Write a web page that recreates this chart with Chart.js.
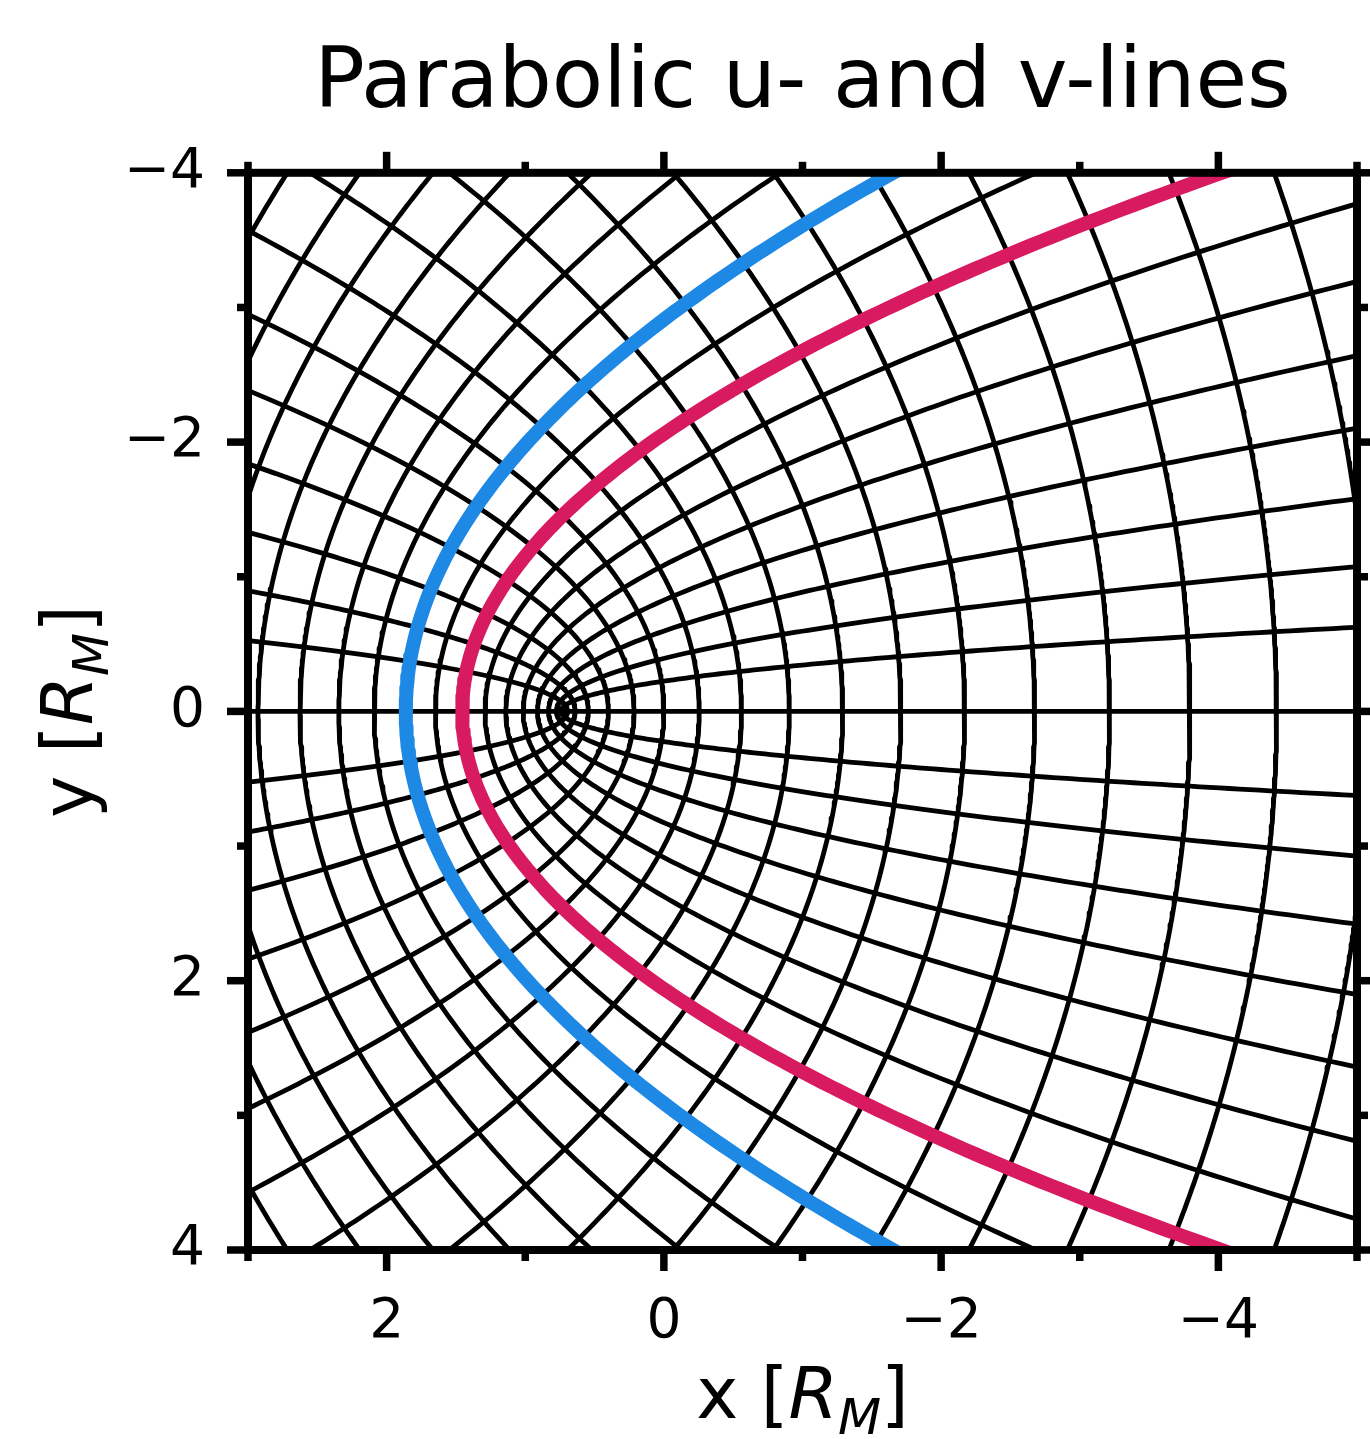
<!DOCTYPE html>
<html>
<head>
<meta charset="utf-8">
<title>Parabolic u- and v-lines</title>
<script src="https://cdn.jsdelivr.net/npm/chart.js@4.4.1/dist/chart.umd.min.js"></script>
<style>
  html, body { margin: 0; padding: 0; background: #fff; }
</style>
</head>
<body>
<canvas id="chart" width="1370" height="1439"></canvas>
<script>
// common focus of both families of parabolas [R_M]
const focusX = 0.725;
// x where each black u-line crosses y = 0 (opens towards -x); first one is the focus itself (y = 0 ray)
const uLineVertexX = [0.725, 0.742, 0.775, 0.832, 0.912, 1.015, 1.14, 1.29, 1.458, 1.648, 1.862, 2.09, 2.345, 2.625, 2.928, 3.25, 3.59, 3.955];
// x where each black v-line crosses y = 0 (opens towards +x)
const vLineVertexX = [0.725, 0.695, 0.64, 0.545, 0.40, 0.215, 0.0, -0.255, -0.56, -0.905, -1.29, -1.71, -2.17, -2.675, -3.215, -3.795, -4.42, -5.09];
// highlighted u-lines
const blueLineVertexX = 1.862;
const redLineVertexX = 1.455;

// axes
const xLimits = [-5, 3];
const yLimits = [-4, 4];
const xMajorTicks = [2, 0, -2, -4];
const xMinorTicks = [3, 1, -1, -3, -5];
const yMajorTicks = [-4, -2, 0, 2, 4];
const yMinorTicks = [-3, -1, 1, 3];

const FONT = '"DejaVu Sans", "Liberation Sans", sans-serif';
const tickSize = 55;
const labelSize = 71;

// points along a parabola with focus (focusX, 0) and given vertex
function parabolaPoints(vertexX, opening) {
  const p = Math.abs(vertexX - focusX);
  const spanX = opening < 0 ? vertexX - (xLimits[0] - 0.3) : (xLimits[1] + 0.3) - vertexX;
  let tMax = Math.sqrt(Math.max(spanX, 0));
  if (p > 0) tMax = Math.min(tMax, 4.4 / (2 * Math.sqrt(p)));
  const n = 300;
  const pts = [];
  for (let i = 0; i <= n; i++) {
    const t = -tMax + 2 * tMax * i / n;
    pts.push({ x: vertexX + opening * t * t, y: 2 * Math.sqrt(p) * t });
  }
  return pts;
}

function gridSet(vertexX, opening) {
  return {
    data: parabolaPoints(vertexX, opening),
    borderColor: '#000',
    borderWidth: 4.8,
    order: 2
  };
}

const datasets = [
  { data: parabolaPoints(redLineVertexX, -1), borderColor: '#D81B60', borderWidth: 14, order: 0 },
  { data: parabolaPoints(blueLineVertexX, -1), borderColor: '#1E88E5', borderWidth: 14, order: 0 }
];
uLineVertexX.forEach(v => datasets.push(gridSet(v, -1)));
vLineVertexX.forEach(v => datasets.push(gridSet(v, 1)));

const minus = v => (v < 0 ? '\u2212' + Math.abs(v) : String(v));

// label like "x [R_M]" with italic R and subscript M
function drawAxisLabel(ctx, letter, cx, cy, angle) {
  const parts = [
    { t: letter + ' [', font: `${labelSize}px ${FONT}`, dy: 0 },
    { t: 'R', font: `italic ${labelSize}px ${FONT}`, dy: 0 },
    { t: 'M', font: `italic ${Math.round(labelSize * 0.7)}px ${FONT}`, dy: labelSize * 0.22 },
    { t: ']', font: `${labelSize}px ${FONT}`, dy: 0 }
  ];
  ctx.save();
  ctx.translate(cx, cy);
  ctx.rotate(angle);
  ctx.fillStyle = '#000';
  ctx.textBaseline = 'alphabetic';
  ctx.textAlign = 'left';
  let total = 0;
  parts.forEach(p => { ctx.font = p.font; p.w = ctx.measureText(p.t).width; total += p.w; });
  let x = -total / 2;
  parts.forEach(p => { ctx.font = p.font; ctx.fillText(p.t, x, p.dy); x += p.w; });
  ctx.restore();
}

// spines, ticks on all four sides and axis titles
const framePlugin = {
  id: 'frame',
  afterDraw(chart) {
    const { ctx, chartArea: a, scales } = chart;
    const sx = scales.x, sy = scales.y;
    ctx.save();
    ctx.strokeStyle = '#000';
    ctx.lineCap = 'butt';
    ctx.lineWidth = 7.5;
    const seg = (x0, y0, x1, y1) => { ctx.beginPath(); ctx.moveTo(x0, y0); ctx.lineTo(x1, y1); ctx.stroke(); };
    const xTick = (v, len) => {
      const px = sx.getPixelForValue(v);
      seg(px, a.bottom, px, a.bottom + len);
      seg(px, a.top, px, a.top - len);
    };
    const yTick = (v, len) => {
      const py = sy.getPixelForValue(v);
      seg(a.left, py, a.left - len, py);
      seg(a.right, py, a.right + len, py);
    };
    xMajorTicks.forEach(v => xTick(v, 21));
    xMinorTicks.forEach(v => xTick(v, 11));
    yMajorTicks.forEach(v => yTick(v, 21));
    yMinorTicks.forEach(v => yTick(v, 11));
    ctx.lineWidth = 8;
    ctx.lineJoin = 'miter';
    ctx.strokeRect(a.left, a.top, a.right - a.left, a.bottom - a.top);
    ctx.restore();

    drawAxisLabel(ctx, 'x', (a.left + a.right) / 2, 1418, 0);
    drawAxisLabel(ctx, 'y', 92, (a.top + a.bottom) / 2, -Math.PI / 2);
  }
};

new Chart(document.getElementById('chart'), {
  type: 'scatter',
  data: { datasets },
  options: {
    responsive: false,
    devicePixelRatio: 1,
    animation: false,
    showLine: true,
    events: [],
    elements: {
      point: { radius: 0 },
      line: { tension: 0, borderCapStyle: 'butt', borderJoinStyle: 'round', fill: false }
    },
    layout: { padding: { left: 0, right: 13, top: 0, bottom: 0 } },
    plugins: {
      legend: { display: false },
      tooltip: { enabled: false },
      title: {
        display: true,
        text: 'Parabolic u- and v-lines',
        fullSize: false,
        color: '#000',
        font: { family: FONT, size: 84, weight: 'normal', lineHeight: 1.2 },
        padding: { top: 35, bottom: 37 }
      }
    },
    scales: {
      x: {
        type: 'linear',
        reverse: true,
        min: xLimits[0],
        max: xLimits[1],
        grid: { display: false },
        border: { display: false },
        afterFit: s => { s.height = 189; },
        afterBuildTicks: s => { s.ticks = xMajorTicks.map(v => ({ value: v })); },
        ticks: {
          color: '#000',
          font: { family: FONT, size: tickSize },
          padding: 32,
          maxRotation: 0,
          autoSkip: false,
          callback: minus
        }
      },
      y: {
        type: 'linear',
        reverse: true,
        min: yLimits[0],
        max: yLimits[1],
        grid: { display: false },
        border: { display: false },
        afterFit: s => { s.width = 248; },
        afterBuildTicks: s => { s.ticks = yMajorTicks.map(v => ({ value: v })); },
        ticks: {
          color: '#000',
          font: { family: FONT, size: tickSize },
          padding: 35,
          autoSkip: false,
          callback: minus
        }
      }
    }
  },
  plugins: [framePlugin]
});
</script>
</body>
</html>
